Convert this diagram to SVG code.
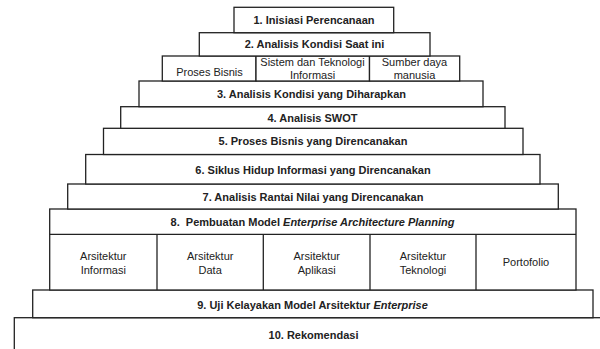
<svg xmlns="http://www.w3.org/2000/svg" width="600" height="349" viewBox="0 0 600 349">
<style>
.b{fill:#fff;stroke:#222;stroke-width:1.3}
.t{font-family:"Liberation Sans",Arial,sans-serif;font-size:11px;fill:#222;text-anchor:middle}
.h{font-weight:bold}
.i{font-style:italic}
</style>
<rect width="600" height="349" fill="#fff"/>
<g id="n10"><rect class="b" x="14.3" y="317.7" width="600" height="40"/><text class="t h" x="313.5" y="338.5">10. Rekomendasi</text></g>
<g id="n9"><rect class="b" x="32.7" y="290" width="560.3" height="27.7"/><text class="t h" x="312.5" y="309">9. Uji Kelayakan Model Arsitektur <tspan class="i">Enterprise</tspan></text></g>
<g id="n8"><rect class="b" x="49.7" y="209" width="526.3" height="81"/><line class="b" x1="49.7" y1="234.3" x2="576" y2="234.3"/><text class="t h" x="312.5" y="226" xml:space="preserve">8.  Pembuatan Model <tspan class="i">Enterprise Architecture Planning</tspan></text></g>
<g id="n8a"><line class="b" x1="157" y1="234.3" x2="157" y2="290"/><text class="t" x="103.3" y="260">Arsitektur</text><text class="t" x="103.3" y="273.5">Informasi</text></g>
<g id="n8b"><line class="b" x1="263.3" y1="234.3" x2="263.3" y2="290"/><text class="t" x="210.2" y="260">Arsitektur</text><text class="t" x="210.2" y="273.5">Data</text></g>
<g id="n8c"><line class="b" x1="370" y1="234.3" x2="370" y2="290"/><text class="t" x="316.7" y="260">Arsitektur</text><text class="t" x="316.7" y="273.5">Aplikasi</text></g>
<g id="n8d"><line class="b" x1="476" y1="234.3" x2="476" y2="290"/><text class="t" x="423" y="260">Arsitektur</text><text class="t" x="423" y="273.5">Teknologi</text></g>
<g id="n8e"><text class="t" x="526" y="266">Portofolio</text></g>
<g id="n7"><rect class="b" x="67.7" y="184" width="490.6" height="25"/><text class="t h" x="313" y="200.5">7. Analisis Rantai Nilai yang Direncanakan</text></g>
<g id="n6"><rect class="b" x="85.7" y="154.5" width="454.3" height="29.5"/><text class="t h" x="313" y="173.5">6. Siklus Hidup Informasi yang Direncanakan</text></g>
<g id="n5"><rect class="b" x="103.5" y="128.3" width="419.5" height="26.2"/><text class="t h" x="313" y="145.4">5. Proses Bisnis yang Direncanakan</text></g>
<g id="n4"><rect class="b" x="120.7" y="106.7" width="384.3" height="21.6"/><text class="t h" x="312.5" y="121.5">4. Analisis SWOT</text></g>
<g id="n3"><rect class="b" x="139" y="81" width="344" height="25.7"/><text class="t h" x="311.5" y="97.8">3. Analisis Kondisi yang Diharapkan</text></g>
<g id="n2a"><rect class="b" x="162.3" y="56" width="93.7" height="25"/><text class="t" x="209.5" y="75.5">Proses Bisnis</text></g>
<g id="n2b"><rect class="b" x="256" y="56" width="113.5" height="25"/><text class="t" x="312.5" y="65.7">Sistem dan Teknologi</text><text class="t" x="312.5" y="79">Informasi</text></g>
<g id="n2c"><rect class="b" x="369.5" y="56" width="90.2" height="25"/><text class="t" x="414.5" y="65.7">Sumber daya</text><text class="t" x="414.5" y="79">manusia</text></g>
<g id="n2"><rect class="b" x="199.3" y="32.7" width="230.7" height="23.3"/><text class="t h" x="314.5" y="48.3">2. Analisis Kondisi Saat ini</text></g>
<g id="n1"><rect class="b" x="234" y="7.3" width="159.7" height="25.4"/><text class="t h" x="314" y="24">1. Inisiasi Perencanaan</text></g>
<g id="connectors"/>
</svg>
